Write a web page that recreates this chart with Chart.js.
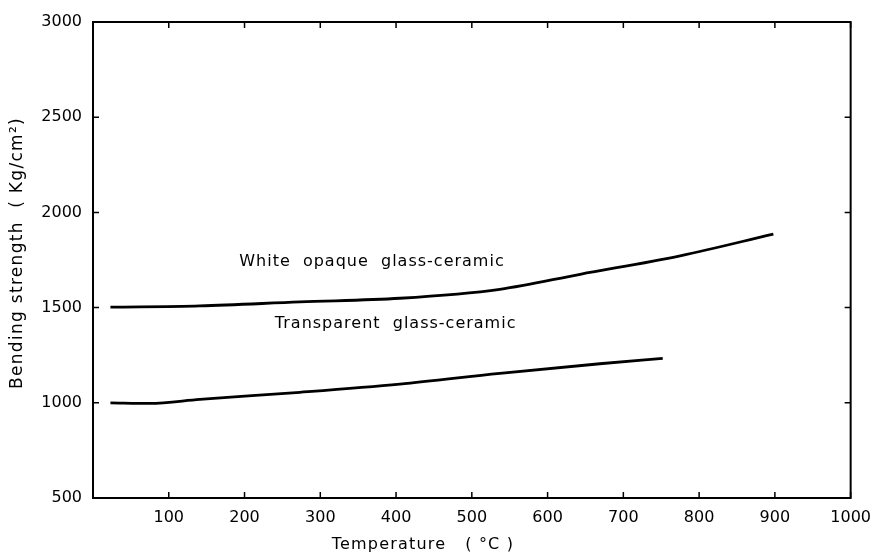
<!DOCTYPE html>
<html>
<head>
<meta charset="utf-8">
<script src="https://cdn.jsdelivr.net/npm/chart.js@4"></script>
<style>
  html, body { margin: 0; padding: 0; background: #fff; }
  #wrap { width: 873px; height: 556px; }
</style>
</head>
<body>
<div id="wrap"><canvas id="myChart" width="873" height="556"></canvas></div>
<script>
// temperature (C) vs bending strength (Kg/cm2)
var opaqueTemp = [23, 141, 273, 405, 537, 643, 775, 898]
var opaqueStrength = [1502, 1509, 1530, 1549, 1596, 1675, 1772, 1886]

var transTemp = [23, 75, 141, 273, 405, 537, 669, 752]
var transStrength = [1000, 997, 1018, 1055, 1098, 1155, 1205, 1233]

var xTicks = [100, 200, 300, 400, 500, 600, 700, 800, 900, 1000]
var yTicks = [500, 1000, 1500, 2000, 2500, 3000]

// curve labels: [text, x value, y value]
var curveLabels = [
    ["White  opaque  glass-ceramic", 193, 1738],
    ["Transparent  glass-ceramic", 240, 1417]
]

var xTitle = "Temperature   ( °C )"
var yTitle = "Bending strength  ( Kg/cm²)"

var fontName = "'DejaVu Sans', sans-serif"

function toPoints(xs, ys) {
    var pts = []
    for (var i = 0; i < xs.length; i++) pts.push({ x: xs[i], y: ys[i] })
    return pts
}

// frame, inward ticks on all four sides, curve labels and axis titles
var framePlugin = {
    id: 'frame',
    afterDraw: function (chart) {
        var ctx = chart.ctx
        var a = chart.chartArea
        var xs = chart.scales.x
        var ys = chart.scales.y
        ctx.save()
        ctx.strokeStyle = '#000'
        ctx.lineWidth = 2
        ctx.strokeRect(a.left, a.top, a.right - a.left, a.bottom - a.top)
        ctx.lineWidth = 1.5
        ctx.beginPath()
        xTicks.forEach(function (v) {
            var px = xs.getPixelForValue(v)
            ctx.moveTo(px, a.bottom); ctx.lineTo(px, a.bottom - 6)
            ctx.moveTo(px, a.top); ctx.lineTo(px, a.top + 6)
        })
        yTicks.forEach(function (v) {
            var py = ys.getPixelForValue(v)
            ctx.moveTo(a.left, py); ctx.lineTo(a.left + 6, py)
            ctx.moveTo(a.right, py); ctx.lineTo(a.right - 6, py)
        })
        ctx.stroke()

        ctx.fillStyle = '#000'
        ctx.font = '16px ' + fontName
        ctx.letterSpacing = '1px'
        ctx.textBaseline = 'middle'
        ctx.textAlign = 'left'
        curveLabels.forEach(function (l) {
            ctx.fillText(l[0], xs.getPixelForValue(l[1]), ys.getPixelForValue(l[2]))
        })

        ctx.textAlign = 'center'
        ctx.letterSpacing = '1.2px'
        ctx.fillText(xTitle, 423, 545)
        ctx.font = '17px ' + fontName
        ctx.letterSpacing = '1.3px'
        ctx.translate(18, 253)
        ctx.rotate(-Math.PI / 2)
        ctx.fillText(yTitle, 0, 0)
        ctx.restore()
    }
}

var chart = new Chart("myChart", {
    type: "line",
    data: {
        datasets: [{
            label: "White opaque glass-ceramic",
            data: toPoints(opaqueTemp, opaqueStrength),
            borderColor: "#000",
            borderWidth: 2.8,
            pointRadius: 0,
            cubicInterpolationMode: 'monotone',
            fill: false
        }, {
            label: "Transparent glass-ceramic",
            data: toPoints(transTemp, transStrength),
            borderColor: "#000",
            borderWidth: 2.8,
            pointRadius: 0,
            cubicInterpolationMode: 'monotone',
            fill: false
        }]
    },
    options: {
        responsive: false,
        animation: false,
        layout: { padding: { top: 22, right: 20, left: 0, bottom: 0 } },
        plugins: { legend: { display: false }, tooltip: { enabled: false } },
        scales: {
            x: {
                type: 'linear',
                min: 0, max: 1000,
                afterFit: function (s) { s.height = 58 },
                afterBuildTicks: function (s) { s.ticks = xTicks.map(function (v) { return { value: v } }) },
                grid: { display: false },
                border: { display: false },
                ticks: {
                    color: '#000', padding: 2, maxRotation: 0,
                    font: { family: fontName, size: 16 },
                    callback: function (v) { return String(v) }
                }
            },
            y: {
                type: 'linear',
                min: 500, max: 3000,
                afterFit: function (s) { s.width = 93 },
                afterBuildTicks: function (s) { s.ticks = yTicks.map(function (v) { return { value: v } }) },
                grid: { display: false },
                border: { display: false },
                ticks: {
                    color: '#000', padding: 3,
                    font: { family: fontName, size: 16 },
                    callback: function (v) { return String(v) }
                }
            }
        }
    },
    plugins: [framePlugin]
})
</script>
</body>
</html>
